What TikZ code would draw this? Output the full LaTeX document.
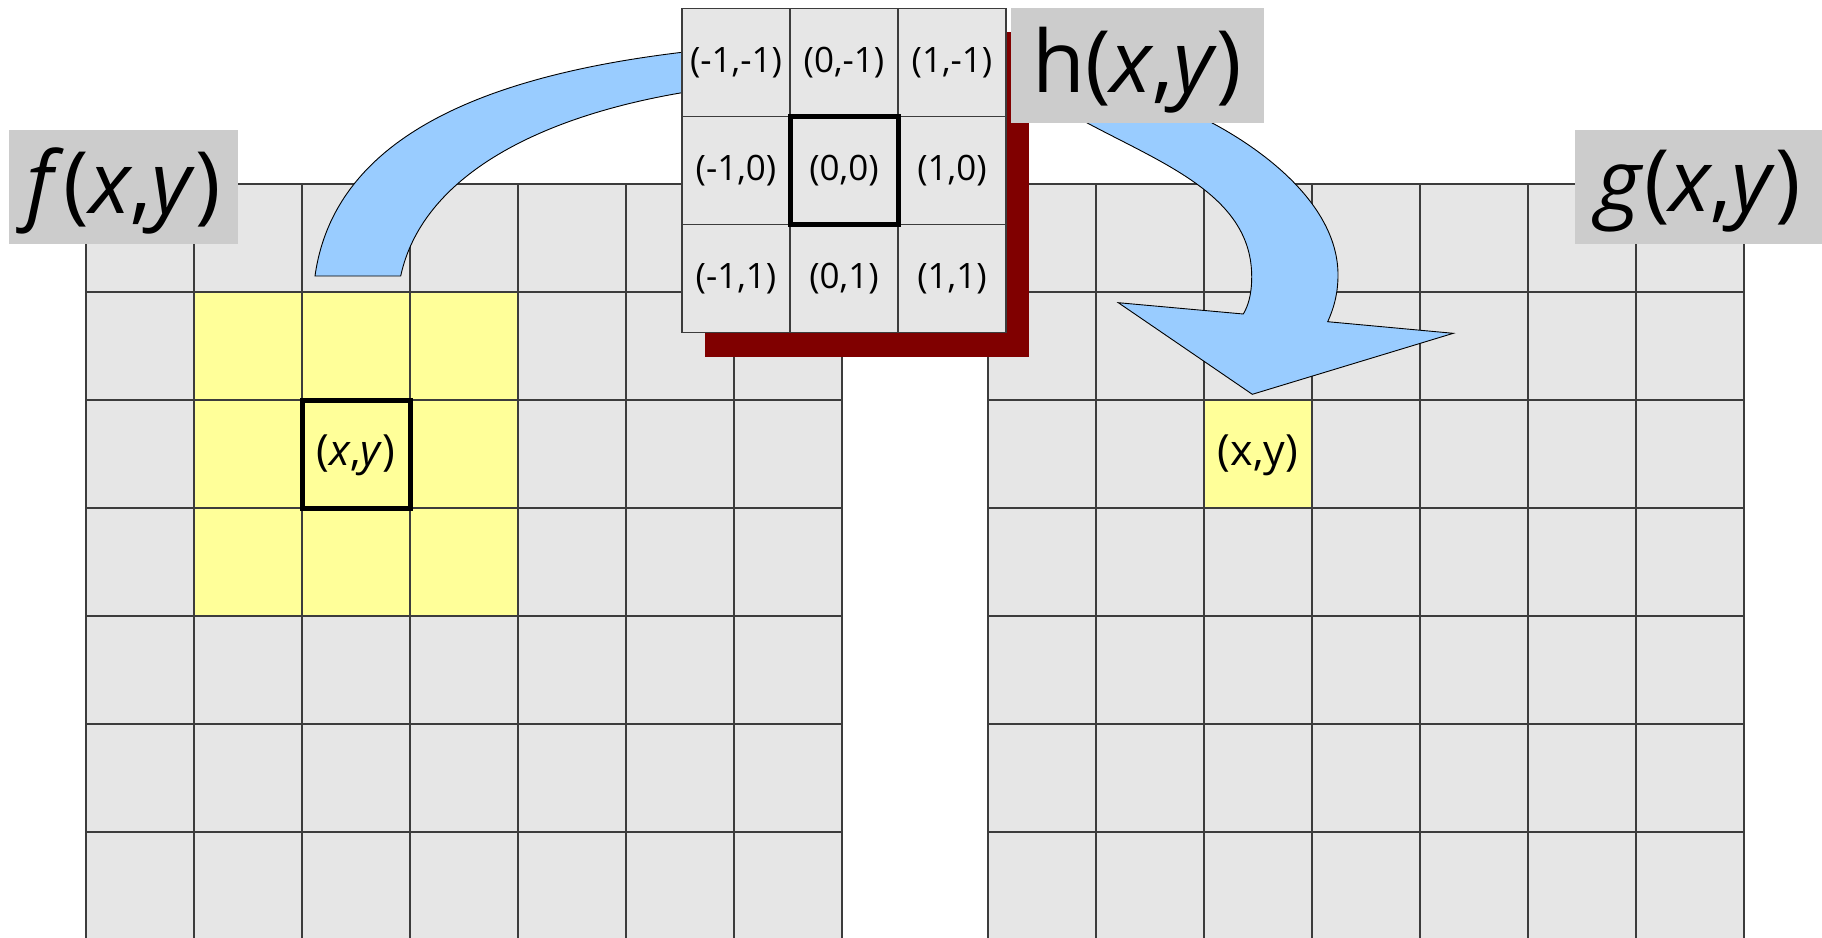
\documentclass[tikz,border=0pt]{standalone}
\usepackage{fontspec}
\setmainfont{Open Sans}
\definecolor{cellgray}{HTML}{E6E6E6}
\definecolor{labelgray}{HTML}{CCCCCC}
\definecolor{hiyellow}{HTML}{FFFF99}
\definecolor{arrowblue}{HTML}{99CCFF}
\definecolor{shadowred}{HTML}{800000}
\definecolor{gridline}{HTML}{3C3C3C}
\begin{document}
\begin{tikzpicture}[x=1pt,y=-1pt,
  gridln/.style={draw=gridline, line width=1.3pt},
  thickcell/.style={draw=black, line width=5pt},
  bigarrow/.style={fill=arrowblue, draw=black, line width=0.9pt, line join=miter},
  labelbox/.style={fill=labelgray},
  biglabel/.style={font=\fontsize{86}{100}\selectfont, inner sep=0pt},
  kcell/.style={fill=cellgray, draw=gridline, line width=1.1pt},
  ktext/.style={font=\fontsize{35}{42}\selectfont, inner sep=0pt},
  xytext/.style={font=\fontsize{43}{50}\selectfont, inner sep=0pt}]
\useasboundingbox (0,0) rectangle (1822,937);
\fill[white] (0,0) rectangle (1822,937);

% ---------------- left grid f(x,y)
\fill[cellgray] (86,184) rectangle (842,945);
\fill[hiyellow] (194,292) rectangle (518,616);
\foreach \i in {0,...,7}
  \draw[gridln] ({86+108*\i},184) -- ({86+108*\i},945);
\foreach \j in {0,...,7}
  \draw[gridln] (86,{184+108*\j}) -- (842,{184+108*\j});
\draw[thickcell] (302,400) rectangle (410,508);
\node[xytext] (fxy) at (356,455) {(\textit{x},\textit{y})};

% ---------------- left curved band
\draw[bigarrow] (315,276) -- (400.7,276)
  .. controls (421.8,178.3) and (534.1,117.9) .. (682,92.7)
  -- (770,82) -- (770,42) -- (682,52.3)
  .. controls (483.4,76.1) and (334.3,137.4) .. (315,276) -- cycle;

% ---------------- right grid g(x,y)
\fill[cellgray] (988,184) rectangle (1744,945);
\fill[hiyellow] (1204,400) rectangle (1312,508);
\foreach \i in {0,...,7}
  \draw[gridln] ({988+108*\i},184) -- ({988+108*\i},945);
\foreach \j in {0,...,7}
  \draw[gridln] (988,{184+108*\j}) -- (1744,{184+108*\j});
\node[xytext] (gxy) at (1258,455) {(x,y)};

% ---------------- right curved arrow
\draw[bigarrow] (1176,104) -- (1211.7,122.7)
  .. controls (1273.3,155.6) and (1338,210) .. (1338,275)
  .. controls (1338,295) and (1333,310) .. (1327.7,321.7)
  -- (1453.3,333.3) -- (1252.3,394.3) -- (1118.3,302.7) -- (1243.3,314)
  .. controls (1248,306) and (1251.7,295) .. (1251.7,276.7)
  .. controls (1251.7,196.7) and (1165.9,165) .. (1086.7,122.7)
  -- (1042,99) -- cycle;

% ---------------- kernel h(x,y)
\fill[shadowred] (705,32) rectangle (1029,357);
\foreach \i in {0,1,2}
  \foreach \j in {0,1,2}
    \draw[kcell] ({682+108*\i},{8.5+108*\j}) rectangle +(108,108);
\draw[thickcell] (790,116.5) rectangle (898,224.5);
\node[ktext] (kmm) at (736,63)  {(-1,-1)};
\node[ktext] (kzm) at (844,63)  {(0,-1)};
\node[ktext] (kpm) at (952,63)  {(1,-1)};
\node[ktext] (kmz) at (736,171) {(-1,0)};
\node[ktext] (kzz) at (844,171) {(0,0)};
\node[ktext] (kpz) at (952,171) {(1,0)};
\node[ktext] (kmp) at (736,279) {(-1,1)};
\node[ktext] (kzp) at (844,279) {(0,1)};
\node[ktext] (kpp) at (952,279) {(1,1)};

% ---------------- labels
\fill[labelbox] (9,130) rectangle (238,244);
\node[biglabel] (flab) at (123.5,191) {\textit{f}(\textit{x},\textit{y})};
\fill[labelbox] (1011,8) rectangle (1264,123);
\node[biglabel] (hlab) at (1137.5,70) {h(\textit{x},\textit{y})};
\fill[labelbox] (1575,130) rectangle (1822,244);
\node[biglabel] (glab) at (1699,191) {\textit{g}(\textit{x},\textit{y})};
\end{tikzpicture}
\end{document}
